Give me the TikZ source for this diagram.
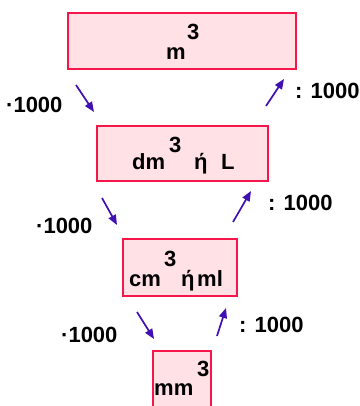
\documentclass[tikz,border=0pt]{standalone}
\usepackage{fontspec}
\setmainfont{Liberation Sans}
\usetikzlibrary{arrows.meta}
\definecolor{boxfill}{HTML}{FFE1E6}
\definecolor{boxdraw}{HTML}{F5174A}
\definecolor{arrcol}{HTML}{4010B0}
\tikzset{
  unitbox/.style={draw=boxdraw, fill=boxfill, line width=2.6pt, rectangle, inner sep=0pt},
  txt/.style={anchor=base west, inner sep=0pt, font=\fontsize{22}{26}\selectfont\bfseries},
  conv/.style={draw=arrcol, line width=1.7pt, -{Triangle[length=10pt,width=8pt]}}
}
\begin{document}
\begin{tikzpicture}[x=1pt,y=-1pt]
\clip (0,0) rectangle (359,406);
% boxes
\node[unitbox, minimum width=228pt, minimum height=56pt] (b1) at (182,41) {};
\node[unitbox, minimum width=171pt, minimum height=55pt] (b2) at (182.5,153.5) {};
\node[unitbox, minimum width=114pt, minimum height=57pt] (b3) at (180,267.5) {};
\node[unitbox, minimum width=58pt, minimum height=80pt] (b4) at (182,391) {};
% box texts
\node[txt] (t1) at (166,60) {m};
\node[txt] (t1s) at (187,40) {3};
\node[txt] (t2) at (132,169) {dm};
\node[txt] (t2s) at (169,153) {3};
\node[txt] (t2b) at (194,169) {ή};
\node[txt] (t2c) at (221,169) {L};
\node[txt] (t3) at (129,286) {cm};
\node[txt] (t3s) at (164,266) {3};
\node[txt] (t3b) at (181,286) {ή};
\node[txt] (t3c) at (197,286) {ml};
\node[txt] (t4) at (154,395) {mm};
\node[txt] (t4s) at (197,376) {3};
% labels
\node[txt] (l1) at (6,113) {·1000};
\node[txt] (r1) at (295,99) {: 1000};
\node[txt] (l2) at (36,233) {·1000};
\node[txt] (r2) at (268,210) {: 1000};
\node[txt] (l3) at (61,342) {·1000};
\node[txt] (r3) at (239,332) {: 1000};
% arrow endpoints
\coordinate (a1s) at (76,85);
\coordinate (a1e) at (94,112);
\coordinate (a2s) at (266,106);
\coordinate (a2e) at (284,79);
\coordinate (a3s) at (102,198);
\coordinate (a3e) at (117,225);
\coordinate (a4s) at (233,222);
\coordinate (a4e) at (251,191);
\coordinate (a5s) at (137,312);
\coordinate (a5e) at (154,339);
\coordinate (a6s) at (217,336);
\coordinate (a6e) at (226,308);
\draw[conv] (a1s) -- (a1e);
\draw[conv] (a2s) -- (a2e);
\draw[conv] (a3s) -- (a3e);
\draw[conv] (a4s) -- (a4e);
\draw[conv] (a5s) -- (a5e);
\draw[conv] (a6s) -- (a6e);
\end{tikzpicture}
\end{document}
